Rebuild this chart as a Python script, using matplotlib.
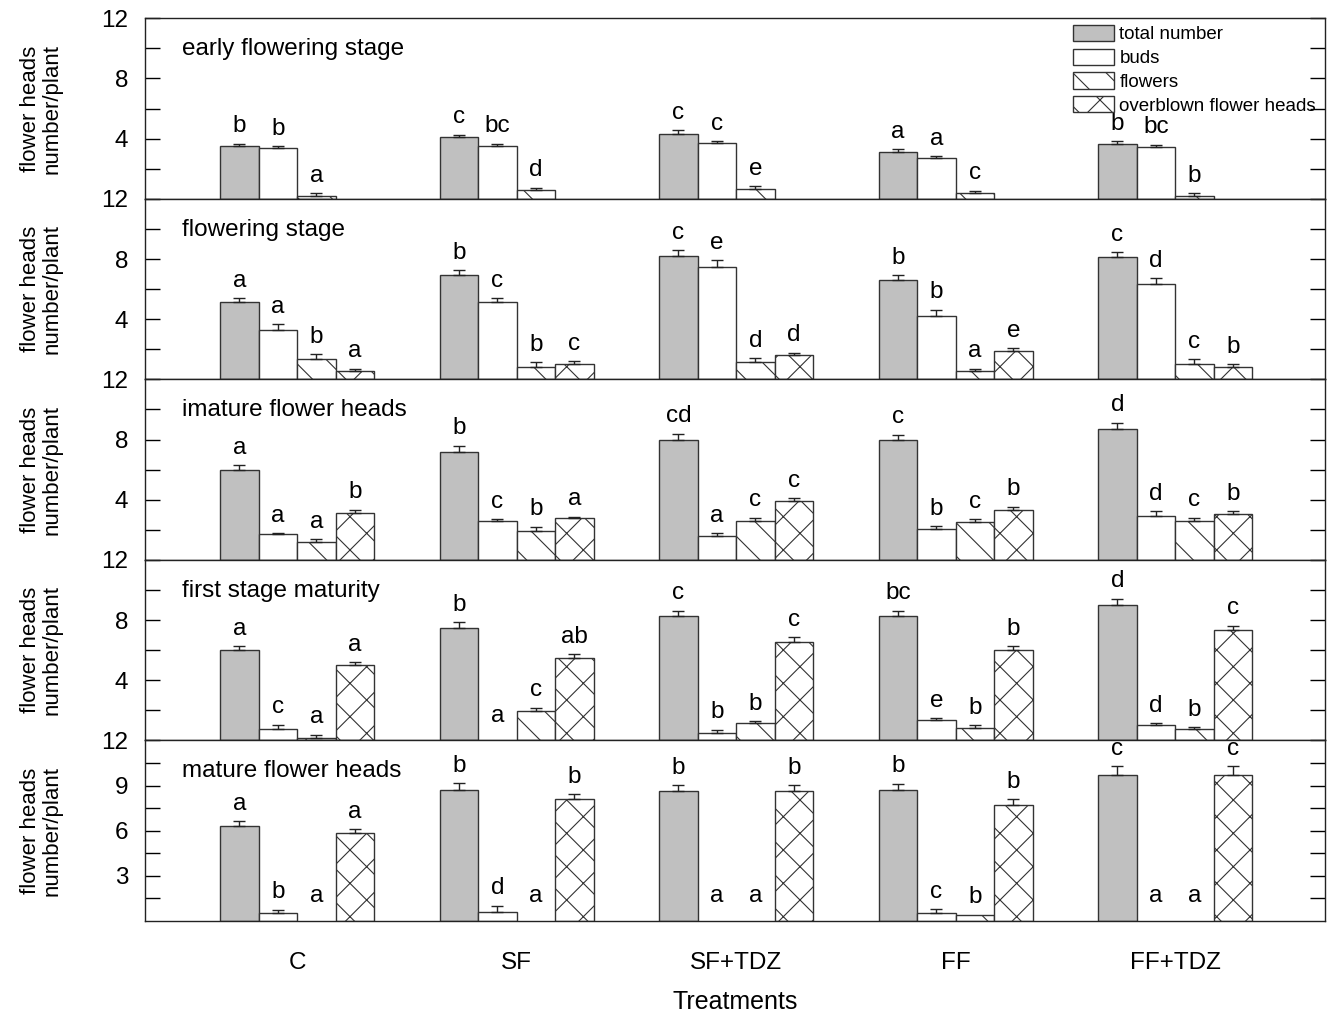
import numpy as np
import matplotlib
matplotlib.use('Agg')
import matplotlib.pyplot as plt
from matplotlib.patches import Patch
from matplotlib.ticker import FixedLocator

plt.rcParams['font.family'] = ['Liberation Sans', 'DejaVu Sans']
plt.rcParams['hatch.linewidth'] = 0.8
plt.rcParams['hatch.color'] = '#3a3a3a'

treatments = ['C', 'SF', 'SF+TDZ', 'FF', 'FF+TDZ']
series_names = ['total number', 'buds', 'flowers', 'overblown flower heads']
stage_titles = ['early flowering stage', 'flowering stage', 'imature flower heads',
                'first stage maturity', 'mature flower heads']

# ---- early flowering stage ----
s1_total = [3.50, 4.09, 4.30, 3.11, 3.64]
s1_total_err = [0.16, 0.18, 0.27, 0.21, 0.20]
s1_buds = [3.37, 3.50, 3.70, 2.70, 3.45]
s1_buds_err = [0.13, 0.16, 0.14, 0.14, 0.16]
s1_flowers = [0.16, 0.61, 0.68, 0.41, 0.20]
s1_flowers_err = [0.20, 0.14, 0.16, 0.14, 0.16]
s1_overblown = [0, 0, 0, 0, 0]
s1_overblown_err = [0, 0, 0, 0, 0]
s1_letters = [['b', 'c', 'c', 'a', 'b'],
              ['b', 'bc', 'c', 'a', 'bc'],
              ['a', 'd', 'e', 'c', 'b'],
              ['', '', '', '', '']]

# ---- flowering stage ----
s2_total = [5.13, 6.91, 8.18, 6.60, 8.10]
s2_total_err = [0.27, 0.34, 0.40, 0.31, 0.35]
s2_buds = [3.31, 5.13, 7.50, 4.19, 6.33]
s2_buds_err = [0.34, 0.27, 0.43, 0.45, 0.38]
s2_flowers = [1.35, 0.81, 1.15, 0.54, 1.01]
s2_flowers_err = [0.32, 0.32, 0.25, 0.18, 0.32]
s2_overblown = [0.56, 1.04, 1.62, 1.87, 0.81]
s2_overblown_err = [0.16, 0.15, 0.16, 0.20, 0.20]
s2_letters = [['a', 'b', 'c', 'b', 'c'],
              ['a', 'c', 'e', 'b', 'd'],
              ['b', 'b', 'd', 'a', 'c'],
              ['a', 'c', 'd', 'e', 'b']]

# ---- imature flower heads ----
s3_total = [5.97, 7.19, 8.00, 7.94, 8.67]
s3_total_err = [0.32, 0.41, 0.40, 0.39, 0.46]
s3_buds = [1.72, 2.59, 1.58, 2.04, 2.93]
s3_buds_err = [0.06, 0.13, 0.18, 0.20, 0.32]
s3_flowers = [1.17, 1.92, 2.59, 2.52, 2.59]
s3_flowers_err = [0.20, 0.28, 0.21, 0.20, 0.21]
s3_overblown = [3.13, 2.81, 3.89, 3.34, 3.07]
s3_overblown_err = [0.21, 0.07, 0.21, 0.21, 0.18]
s3_letters = [['a', 'b', 'cd', 'c', 'd'],
              ['a', 'c', 'a', 'b', 'd'],
              ['a', 'b', 'c', 'c', 'c'],
              ['b', 'a', 'c', 'b', 'b']]

# ---- first stage maturity ----
s4_total = [6.02, 7.49, 8.24, 8.24, 9.03]
s4_total_err = [0.27, 0.38, 0.38, 0.38, 0.40]
s4_buds = [0.79, 0, 0.52, 1.33, 1.00]
s4_buds_err = [0.27, 0, 0.20, 0.14, 0.13]
s4_flowers = [0.16, 1.99, 1.13, 0.86, 0.75]
s4_flowers_err = [0.22, 0.20, 0.14, 0.14, 0.13]
s4_overblown = [5.02, 5.50, 6.56, 6.04, 7.31]
s4_overblown_err = [0.18, 0.25, 0.32, 0.23, 0.31]
s4_letters = [['a', 'b', 'c', 'bc', 'd'],
              ['c', 'a', 'b', 'e', 'd'],
              ['a', 'c', 'b', 'b', 'b'],
              ['a', 'ab', 'c', 'b', 'c']]

# ---- mature flower heads ----
s5_total = [6.31, 8.73, 8.67, 8.73, 9.73]
s5_total_err = [0.34, 0.43, 0.36, 0.39, 0.54]
s5_buds = [0.50, 0.63, 0, 0.54, 0]
s5_buds_err = [0.25, 0.39, 0, 0.27, 0]
s5_flowers = [0, 0, 0, 0.43, 0]
s5_flowers_err = [0, 0, 0, 0, 0]
s5_overblown = [5.86, 8.08, 8.67, 7.74, 9.73]
s5_overblown_err = [0.25, 0.36, 0.36, 0.38, 0.54]
s5_letters = [['a', 'b', 'b', 'b', 'c'],
              ['b', 'd', 'a', 'c', 'a'],
              ['a', 'a', 'a', 'b', 'a'],
              ['a', 'b', 'b', 'b', 'c']]

stage_values = [
    [s1_total, s1_buds, s1_flowers, s1_overblown],
    [s2_total, s2_buds, s2_flowers, s2_overblown],
    [s3_total, s3_buds, s3_flowers, s3_overblown],
    [s4_total, s4_buds, s4_flowers, s4_overblown],
    [s5_total, s5_buds, s5_flowers, s5_overblown],
]
stage_errors = [
    [s1_total_err, s1_buds_err, s1_flowers_err, s1_overblown_err],
    [s2_total_err, s2_buds_err, s2_flowers_err, s2_overblown_err],
    [s3_total_err, s3_buds_err, s3_flowers_err, s3_overblown_err],
    [s4_total_err, s4_buds_err, s4_flowers_err, s4_overblown_err],
    [s5_total_err, s5_buds_err, s5_flowers_err, s5_overblown_err],
]
stage_letters = [s1_letters, s2_letters, s3_letters, s4_letters, s5_letters]

# ---- styles ----
faces = ['#c0c0c0', 'white', 'white', 'white']
hatches = [None, None, '\\', 'x']
edge = '#333333'
bar_w = 0.1754
offsets = [-1.5, -0.5, 0.5, 1.5]
letter_gap = 0.42
zero_letter_y = 0.9
fs = 17.5

fig, axes = plt.subplots(5, 1, figsize=(13.31, 10.15), dpi=100, sharex=True)
fig.subplots_adjust(left=0.109, right=0.9955, top=0.982, bottom=0.0926, hspace=0)

x = np.arange(len(treatments))

for si, ax in enumerate(axes):
    vals_all = stage_values[si]
    errs_all = stage_errors[si]
    lets_all = stage_letters[si]
    for k in range(4):
        v = np.array(vals_all[k], dtype=float)
        e = np.array(errs_all[k], dtype=float)
        xs = x + offsets[k] * bar_w
        mask = v > 0
        if mask.any():
            ax.bar(xs[mask], v[mask], bar_w, color=faces[k], edgecolor=edge,
                   hatch=hatches[k], linewidth=1.0, zorder=2)
            emask = mask & (e > 0)
            if emask.any():
                ax.errorbar(xs[emask], v[emask],
                            yerr=[np.zeros(emask.sum()), e[emask]],
                            fmt='none', ecolor='#222222', elinewidth=1.0,
                            capsize=4.5, capthick=1.0, zorder=3)
        for j in range(len(treatments)):
            lab = lets_all[k][j]
            if not lab:
                continue
            if v[j] > 0:
                ty = v[j] + e[j] + letter_gap
            else:
                ty = zero_letter_y
            ax.text(xs[j], ty, lab, ha='center', va='bottom', fontsize=fs, zorder=4)

    ax.set_ylim(0, 12)
    ax.set_xlim(-0.6925, 4.683)
    if si < 4:
        ax.yaxis.set_major_locator(FixedLocator([4, 8, 12]))
        ax.yaxis.set_minor_locator(FixedLocator([2, 6, 10]))
    else:
        ax.yaxis.set_major_locator(FixedLocator([3, 6, 9, 12]))
        ax.yaxis.set_minor_locator(FixedLocator([1.5, 4.5, 7.5, 10.5]))
    ax.tick_params(axis='y', which='both', direction='in', length=11, width=1,
                   left=True, right=True, labelsize=fs, pad=12)
    ax.tick_params(axis='x', which='both', length=0, labelsize=fs, pad=22)
    for sp in ax.spines.values():
        sp.set_linewidth(1.0)
        sp.set_color('#222222')
    ax.set_ylabel('flower heads\nnumber/plant', fontsize=16, linespacing=1.0)
    ax.yaxis.set_label_coords(-0.070, 0.5)
    ax.text(0.031, 0.83, stage_titles[si], transform=ax.transAxes,
            ha='left', va='center', fontsize=fs)

axes[-1].set_xticks(x)
axes[-1].set_xticklabels(treatments)
axes[-1].set_xlabel('Treatments', fontsize=18, labelpad=12)

handles = [Patch(facecolor=faces[k], edgecolor=edge, hatch=hatches[k], linewidth=1.0)
           for k in range(4)]
axes[0].legend(handles, series_names, loc='upper right', bbox_to_anchor=(0.998, 1.0),
               frameon=False, fontsize=13.5, handlelength=2.2, handleheight=0.95,
               labelspacing=0.28, handletextpad=0.3, borderaxespad=0.3, borderpad=0.05)

fig.savefig('out.png', dpi=100)
